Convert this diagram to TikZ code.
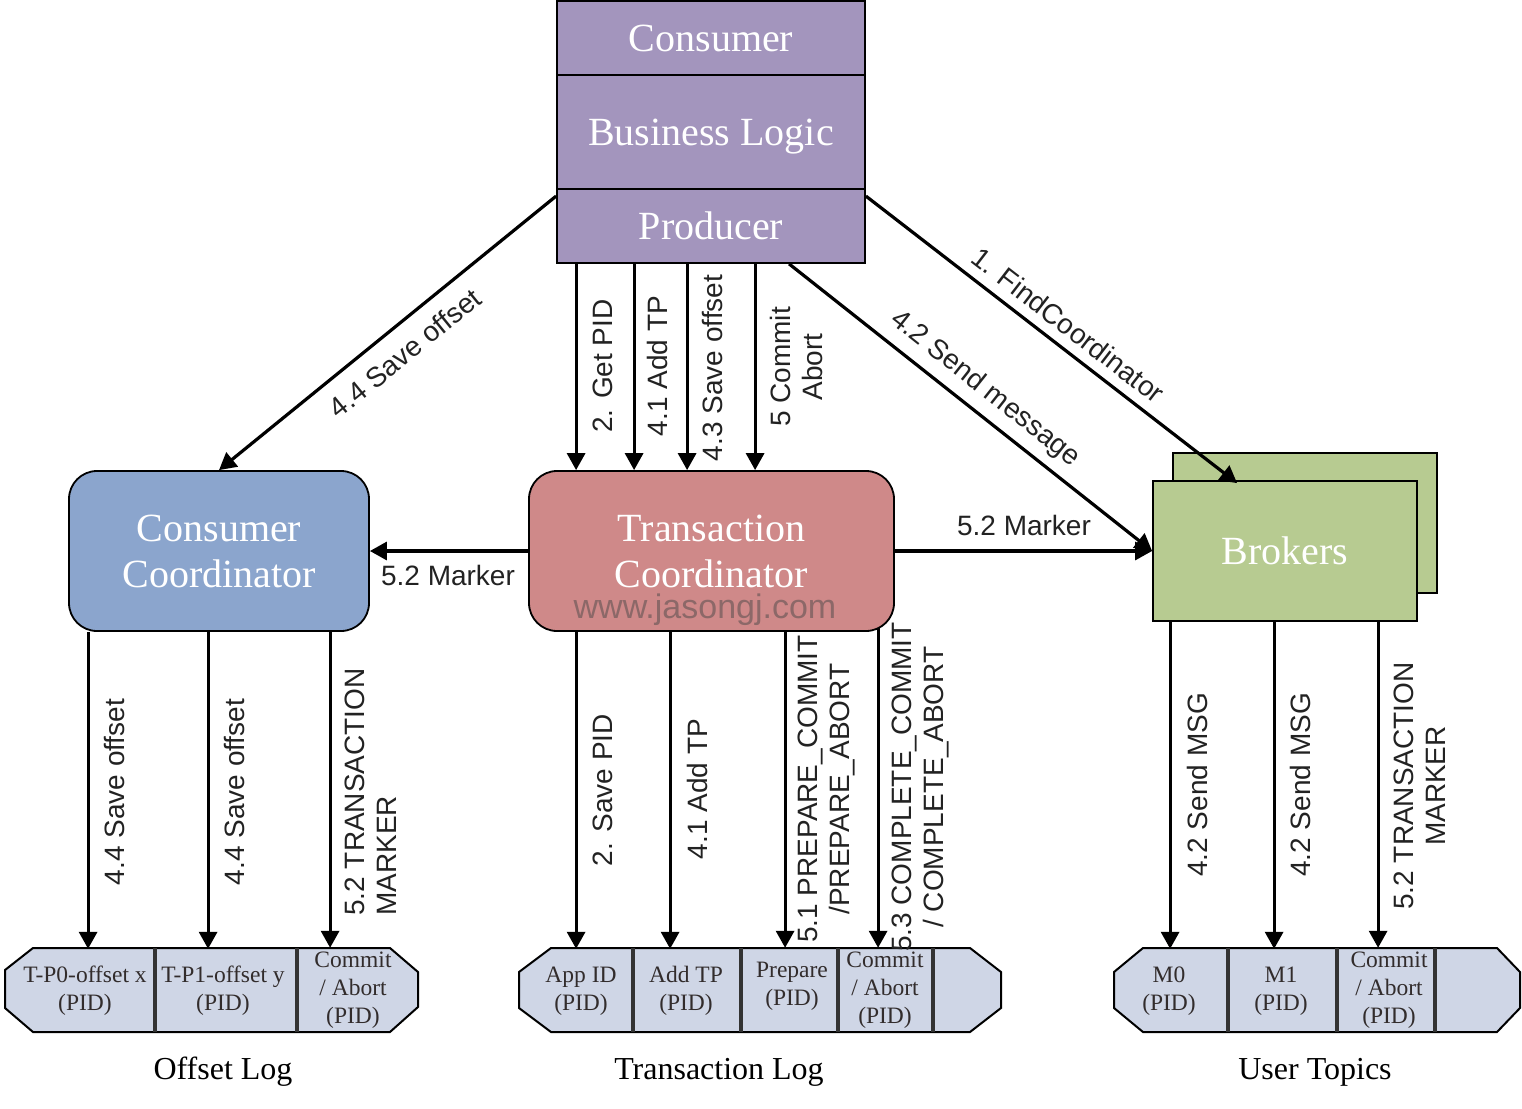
\documentclass[tikz,border=0pt]{standalone}
\usepackage{fontspec}
\setmainfont{Liberation Serif}
\newfontfamily\labfam{Liberation Sans}
\usetikzlibrary{arrows.meta}
\newcommand\BoxFont{\fontsize{40}{46}\selectfont}
\newcommand\LabFont{\labfam\fontsize{28}{32}\selectfont}
\newcommand\CellFont{\fontsize{23.5}{28}\selectfont}
\newcommand\CapFont{\fontsize{32}{38}\selectfont}
\newcommand\WmFont{\labfam\fontsize{34}{38}\selectfont}
\definecolor{cpurple}{RGB}{163,149,189}
\definecolor{cblue}{RGB}{139,165,205}
\definecolor{cpink}{RGB}{207,137,137}
\definecolor{cgreen}{RGB}{183,203,145}
\definecolor{clog}{RGB}{207,214,230}
\definecolor{clab}{RGB}{34,34,34}
\definecolor{ccell}{RGB}{50,44,44}
\definecolor{cwm}{RGB}{140,104,104}
\definecolor{cdiv}{RGB}{51,51,51}
\begin{document}
\begin{tikzpicture}[x=1pt,y=-1pt,
  box/.style={draw=black, line width=1.8pt, text=white, font=\BoxFont, align=center, inner sep=0pt},
  arr/.style={line width=3.2pt, -{Triangle[length=17pt,width=18pt]}},
  lab/.style={font=\LabFont, text=clab, align=center, inner sep=1pt},
  cell/.style={font=\CellFont, text=ccell, align=center, inner sep=0pt, minimum height=84pt},
  captext/.style={font=\CapFont, text=black, inner sep=0pt},
  logshape/.style={draw=black, line width=2pt, fill=clog},
  divider/.style={draw=cdiv, line width=4pt}
]
\useasboundingbox (0,0) rectangle (1522,1108);

% ---------- top stack ----------
\node[box, fill=cpurple, minimum width=308pt, minimum height=74pt] (cons) at (711,38) {Consumer};
\node[box, fill=cpurple, minimum width=308pt, minimum height=114pt, text depth=0pt] (logic) at (711,132) {Business Logic};
\node[box, fill=cpurple, minimum width=308pt, minimum height=74pt] (prod) at (711,226) {Producer};

% ---------- coordinators ----------
\node[box, fill=cblue, rounded corners=28pt, minimum width=300pt, minimum height=160pt] (cc) at (219,551) {Consumer\\Coordinator};
\node[box, fill=cpink, rounded corners=28pt, minimum width=365pt, minimum height=160pt] (tc) at (711.5,551) {Transaction\\Coordinator};
\node[font=\WmFont, text=cwm, inner sep=0pt] (wm) at (705,610) {www.jasongj.com};

% ---------- brokers ----------
\node[box, fill=cgreen, minimum width=264pt, minimum height=140pt] (brkback) at (1305,523) {};
\node[box, fill=cgreen, minimum width=264pt, minimum height=140pt] (brk) at (1285,551) {Brokers};

% ---------- logs ----------
\draw[logshape] (33,948) -- (390,948) -- (418,972) -- (418,1007) -- (390,1032) -- (33,1032) -- (5,1008) -- (5,970) -- cycle;
\draw[divider] (155,948) -- (155,1032);
\draw[divider] (297,948) -- (297,1032);

\draw[logshape] (551,948) -- (970,948) -- (1001,972) -- (1001,1008) -- (970,1032) -- (551,1032) -- (519,1008) -- (519,972) -- cycle;
\draw[divider] (633,948) -- (633,1032);
\draw[divider] (741,948) -- (741,1032);
\draw[divider] (838,948) -- (838,1032);
\draw[divider] (933,948) -- (933,1032);

\draw[logshape] (1143,948) -- (1497,948) -- (1520,972) -- (1520,1008) -- (1497,1032) -- (1143,1032) -- (1114,1008) -- (1114,972) -- cycle;
\draw[divider] (1228,948) -- (1228,1032);
\draw[divider] (1337,948) -- (1337,1032);
\draw[divider] (1435,948) -- (1435,1032);

% cells
\node[cell] (o1) at (85,991) {T-P0-offset x\\(PID)};
\node[cell] (o2) at (223,991) {T-P1-offset y\\(PID)};
\node[cell] (o3) at (353,990) {Commit\\/ Abort\\(PID)};
\node[cell] (t1) at (581,991) {App ID\\(PID)};
\node[cell] (t2) at (686,991) {Add TP\\(PID)};
\node[cell, minimum height=76pt] (t3) at (792,986) {Prepare\\(PID)};
\node[cell] (t4) at (885,990) {Commit\\/ Abort\\(PID)};
\node[cell] (u1) at (1169,991) {M0\\(PID)};
\node[cell] (u2) at (1281,991) {M1\\(PID)};
\node[cell] (u3) at (1389,990) {Commit\\/ Abort\\(PID)};

% captions
\node[captext] (capo) at (223,1072) {Offset Log};
\node[captext] (capt) at (719,1072) {Transaction Log};
\node[captext] (capu) at (1315,1072) {User Topics};

% ---------- arrows from producer ----------
\draw[arr] ([yshift=-8pt]prod.north west) -- (cc.north);
\draw[arr] ([xshift=20pt]prod.south west) -- ([xshift=20pt]prod.south west |- tc.north);
\draw[arr] ([xshift=78pt]prod.south west) -- ([xshift=78pt]prod.south west |- tc.north);
\draw[arr] ([xshift=131pt]prod.south west) -- ([xshift=131pt]prod.south west |- tc.north);
\draw[arr] ([xshift=199pt]prod.south west) -- ([xshift=199pt]prod.south west |- tc.north);
\draw[arr] ([yshift=-8pt]prod.north east) -- ([xshift=85pt,yshift=-3pt]brk.north west);
\draw[arr] ([xshift=233pt]prod.south west) -- (brk.west);

% horizontal
\draw[arr] (tc.west) -- (cc.east);
\draw[arr] (tc.east) -- (brk.west);

% ---------- down arrows ----------
\draw[arr] ([xshift=20pt]cc.south west) -- ([xshift=20pt]cc.south west |- o1.north);
\draw[arr] ([xshift=140pt]cc.south west) -- ([xshift=140pt]cc.south west |- o2.north);
\draw[arr] ([xshift=262pt]cc.south west) -- ([xshift=262pt]cc.south west |- o3.north);

\draw[arr] ([xshift=48pt]tc.south west) -- ([xshift=48pt]tc.south west |- t1.north);
\draw[arr] ([xshift=142pt]tc.south west) -- ([xshift=142pt]tc.south west |- t2.north);
\draw[arr] ([xshift=257pt]tc.south west) -- ([xshift=257pt]tc.south west |- t3.north);
\draw[arr] ([xshift=350pt,yshift=4pt]tc.south west) -- ([xshift=350pt]tc.south west |- t4.north);

\draw[arr] ([xshift=18pt]brk.south west) -- ([xshift=18pt]brk.south west |- u1.north);
\draw[arr] ([xshift=122pt]brk.south west) -- ([xshift=122pt]brk.south west |- u2.north);
\draw[arr] ([xshift=226pt]brk.south west) -- ([xshift=226pt]brk.south west |- u3.north);

% ---------- labels ----------
\node[lab, rotate=39] (l44) at (405,353) {4.4 Save offset};
\node[lab, rotate=90] (l2) at (603,366) {2. Get PID};
\node[lab, rotate=90] (l41) at (657,366) {4.1 Add TP};
\node[lab, rotate=90] (l43) at (712,368) {4.3 Save offset};
\node[lab, rotate=90] (l5) at (796,367) {5 Commit\\Abort};
\node[lab, rotate=-37.6] (l1) at (1068,325) {1. FindCoordinator};
\node[lab, rotate=-38.4] (l42) at (985,389) {4.2 Send message};
\node[lab] (lm1) at (1024,525) {5.2 Marker};
\node[lab] (lm2) at (448,575) {5.2 Marker};

\node[lab, rotate=90] (b1) at (115,792) {4.4 Save offset};
\node[lab, rotate=90] (b2) at (235,792) {4.4 Save offset};
\node[lab, rotate=90, align=left] (b3) at (371,792) {5.2 TRANSACTION\\MARKER};
\node[lab, rotate=90] (b4) at (603,790) {2. Save PID};
\node[lab, rotate=90] (b5) at (697,789) {4.1 Add TP};
\node[lab, rotate=90] (b6) at (826,789) {5.1 PREPARE\_COMMIT\\/PREPARE\_ABORT};
\node[lab, rotate=90] (b7) at (920,787) {5.3 COMPLETE\_COMMIT\\/ COMPLETE\_ABORT};
\node[lab, rotate=90] (b8) at (1197,785) {4.2 Send MSG};
\node[lab, rotate=90] (b9) at (1300,785) {4.2 Send MSG};
\node[lab, rotate=90] (b10) at (1420,786) {5.2 TRANSACTION\\MARKER};
\end{tikzpicture}
\end{document}
